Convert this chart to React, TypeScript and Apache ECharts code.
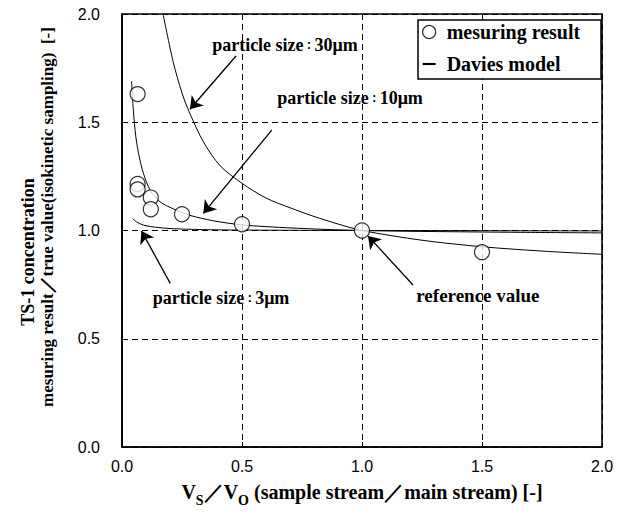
import React, { useEffect, useRef } from "react";
import * as echarts from "echarts";

// measured points
const measX = [0.065, 0.065, 0.065, 0.12, 0.12, 0.25, 0.5, 1.0, 1.5];
const measY = [1.63, 1.215, 1.19, 1.152, 1.098, 1.075, 1.029, 1.0, 0.9];

// Davies model, 3 um
const d3X = [0.045, 0.06, 0.089, 0.12, 0.158, 0.2, 0.27, 0.4, 0.5, 0.7, 1.0, 1.5, 2.0];
const d3Y = [1.055, 1.04, 1.025, 1.018, 1.013, 1.009, 1.006, 1.003, 1.002, 1.001, 1.0, 0.999, 0.998];

// Davies model, 10 um
const d10X = [0.04, 0.047, 0.058, 0.072, 0.089, 0.117, 0.158, 0.214, 0.283, 0.38, 0.5, 0.7, 1.0, 1.5, 2.0];
const d10Y = [1.69, 1.56, 1.43, 1.34, 1.265, 1.187, 1.133, 1.1, 1.07, 1.045, 1.026, 1.012, 1.0, 0.993, 0.989];

// Davies model, 30 um
const d30X = [0.171, 0.213, 0.25, 0.283, 0.339, 0.408, 0.5, 0.6, 0.7, 0.8, 0.9, 1.0, 1.25, 1.5, 1.75, 2.0];
const d30Y = [2.0, 1.78, 1.635, 1.54, 1.41, 1.3, 1.218, 1.15, 1.105, 1.065, 1.03, 1.0, 0.955, 0.925, 0.905, 0.89];

const axisTicks = [0, 0.5, 1.0, 1.5, 2.0];

// annotations: text, text anchor [x,y], arrow from [x,y], arrow to [x,y]
const annTexts = ["particle size", "particle size", "particle size", "reference value"];
const annSizes = ["30μm", "10μm", "3μm", ""];
const annTextPos = [[0.679, 1.857], [0.95, 1.612], [0.4125, 0.688], [1.483, 0.702]];
const annArrowFrom = [[0.475, 1.806], [0.624, 1.464], [0.201, 0.756], [1.2125, 0.748]];
const annArrowTo = [[0.283, 1.56], [0.339, 1.079], [0.081, 0.998], [1.025, 0.975]];

const zip = (xs: number[], ys: number[]) => xs.map((x, i) => [x, ys[i]]);

export default function App() {
  const ref = useRef<HTMLDivElement>(null);
  useEffect(() => {
    const chart = echarts.init(ref.current!, null, { renderer: "svg" });
    const serif = "'Liberation Serif', 'Times New Roman', serif";
    const sans = "'Liberation Sans', Arial, sans-serif";
    const axisCommon = {
      type: "value",
      min: axisTicks[0],
      max: axisTicks[axisTicks.length - 1],
      interval: axisTicks[1] - axisTicks[0],
      axisLine: { show: true, lineStyle: { color: "#000", width: 1.6 } },
      axisTick: { show: true, inside: true, length: 5, lineStyle: { color: "#000" } },
      splitLine: { show: true, lineStyle: { color: "#000", width: 1, type: [6, 4] } },
    };
    const lineSeries = (data: number[][], extra: any = {}) => ({
      type: "line",
      name: "Davies model",
      data,
      symbol: "none",
      smooth: 0.3,
      lineStyle: { color: "#000", width: 1 },
      itemStyle: { color: "#000" },
      z: 2,
      ...extra,
    });
    const annRich = {
      t: { fontFamily: serif, fontWeight: "bold", fontSize: 18, color: "#000" },
      r: { fontFamily: serif, fontWeight: "bold", fontSize: 19, color: "#000" },
      c: { fontFamily: "'Noto Sans CJK JP', sans-serif", fontWeight: "bold", fontSize: 11, color: "#000" },
    };
    const option: any = {
      animation: false,
      grid: { left: 122, right: 20, top: 14, bottom: 69, show: true, borderColor: "#000", borderWidth: 1.6 },
      xAxis: {
        ...axisCommon,
        axisLabel: { formatter: (v: number) => v.toFixed(1), color: "#000", fontFamily: sans, fontSize: 16, margin: 11 },
      },
      yAxis: {
        ...axisCommon,
        axisLabel: { formatter: (v: number) => v.toFixed(1), color: "#000", fontFamily: sans, fontSize: 16, margin: 22 },
      },
      legend: {
        data: [
          { name: "mesuring result", icon: "circle", itemStyle: { color: "#fff", borderColor: "#000", borderWidth: 1.3 } },
          { name: "Davies model", icon: "path://M0,0 L10,0 L10,1.6 L0,1.6 Z", itemStyle: { color: "#000", borderWidth: 0 } },
        ],
        orient: "vertical",
        left: 418,
        top: 20,
        padding: [2, 4, 5, 4],
        itemGap: 12,
        itemWidth: 13,
        itemHeight: 13,
        symbolKeepAspect: true,
        backgroundColor: "transparent",
        borderWidth: 0,
        z: 10,
        textStyle: { fontFamily: serif, fontWeight: "bold", fontSize: 20, color: "#000", padding: [0, 0, 0, 6] },
      },
      series: [
        lineSeries(zip(d3X, d3Y)),
        lineSeries(zip(d10X, d10Y)),
        lineSeries(zip(d30X, d30Y), {
          markLine: {
            silent: true,
            symbol: ["none", "arrow"],
            symbolSize: 12,
            label: { show: false },
            itemStyle: { color: "#000" },
            lineStyle: { color: "#000", width: 1.3, type: "solid" },
            emphasis: { disabled: true },
            data: annArrowFrom.map((f, i) => [{ coord: f }, { coord: annArrowTo[i] }]),
          },
          markPoint: {
            silent: true,
            symbol: "circle",
            symbolSize: 0,
            data: annTexts.map((t, i) => ({
              coord: annTextPos[i],
              label: {
                show: true,
                position: "inside",
                formatter: annSizes[i] ? `{t|${t}}{c|：}{t|${annSizes[i]}}` : `{r|${t}}`,
                rich: annRich,
              },
            })),
          },
        }),
        {
          type: "scatter",
          name: "mesuring result",
          data: zip(measX, measY),
          symbol: "circle",
          symbolSize: 15,
          itemStyle: { color: "#fff", borderColor: "#000", borderWidth: 1.2 },
          z: 5,
        },
      ],
      graphic: [
        {
          type: "rect",
          z: 8,
          shape: { x: 418, y: 20, width: 183, height: 59 },
          style: { fill: "#fff", stroke: "#000", lineWidth: 1.5 },
        },
        {
          type: "text",
          x: 362,
          y: 490,
          style: {
            text: "{m|V}{s|S}{m|／V}{s|O}{m| (sample stream／main stream) [-]}",
            align: "center",
            verticalAlign: "middle",
            rich: {
              m: { fontFamily: serif, fontWeight: "bold", fontSize: 20, color: "#000", lineHeight: 24, verticalAlign: "bottom" },
              s: { fontFamily: serif, fontWeight: "bold", fontSize: 14, color: "#000", lineHeight: 24, verticalAlign: "bottom", padding: [0, 0, -5, 0] },
            },
          },
        },
        {
          type: "text",
          x: 28,
          y: 252,
          rotation: Math.PI / 2,
          style: {
            text: "TS-1 concentration",
            align: "center",
            verticalAlign: "middle",
            fontFamily: serif,
            fontWeight: "bold",
            fontSize: 18,
            fill: "#000",
          },
        },
        {
          type: "text",
          x: 47,
          y: 217,
          rotation: Math.PI / 2,
          style: {
            text: "mesuring result／true value(isokinetic sampling)  [-]",
            align: "center",
            verticalAlign: "middle",
            fontFamily: serif,
            fontWeight: "bold",
            fontSize: 17,
            fill: "#000",
          },
        },
      ],
    };
    chart.setOption(option);
    return () => chart.dispose();
  }, []);
  return <div ref={ref} style={{ position: "absolute", left: 0, top: 0, width: 622, height: 516 }} />;
}
